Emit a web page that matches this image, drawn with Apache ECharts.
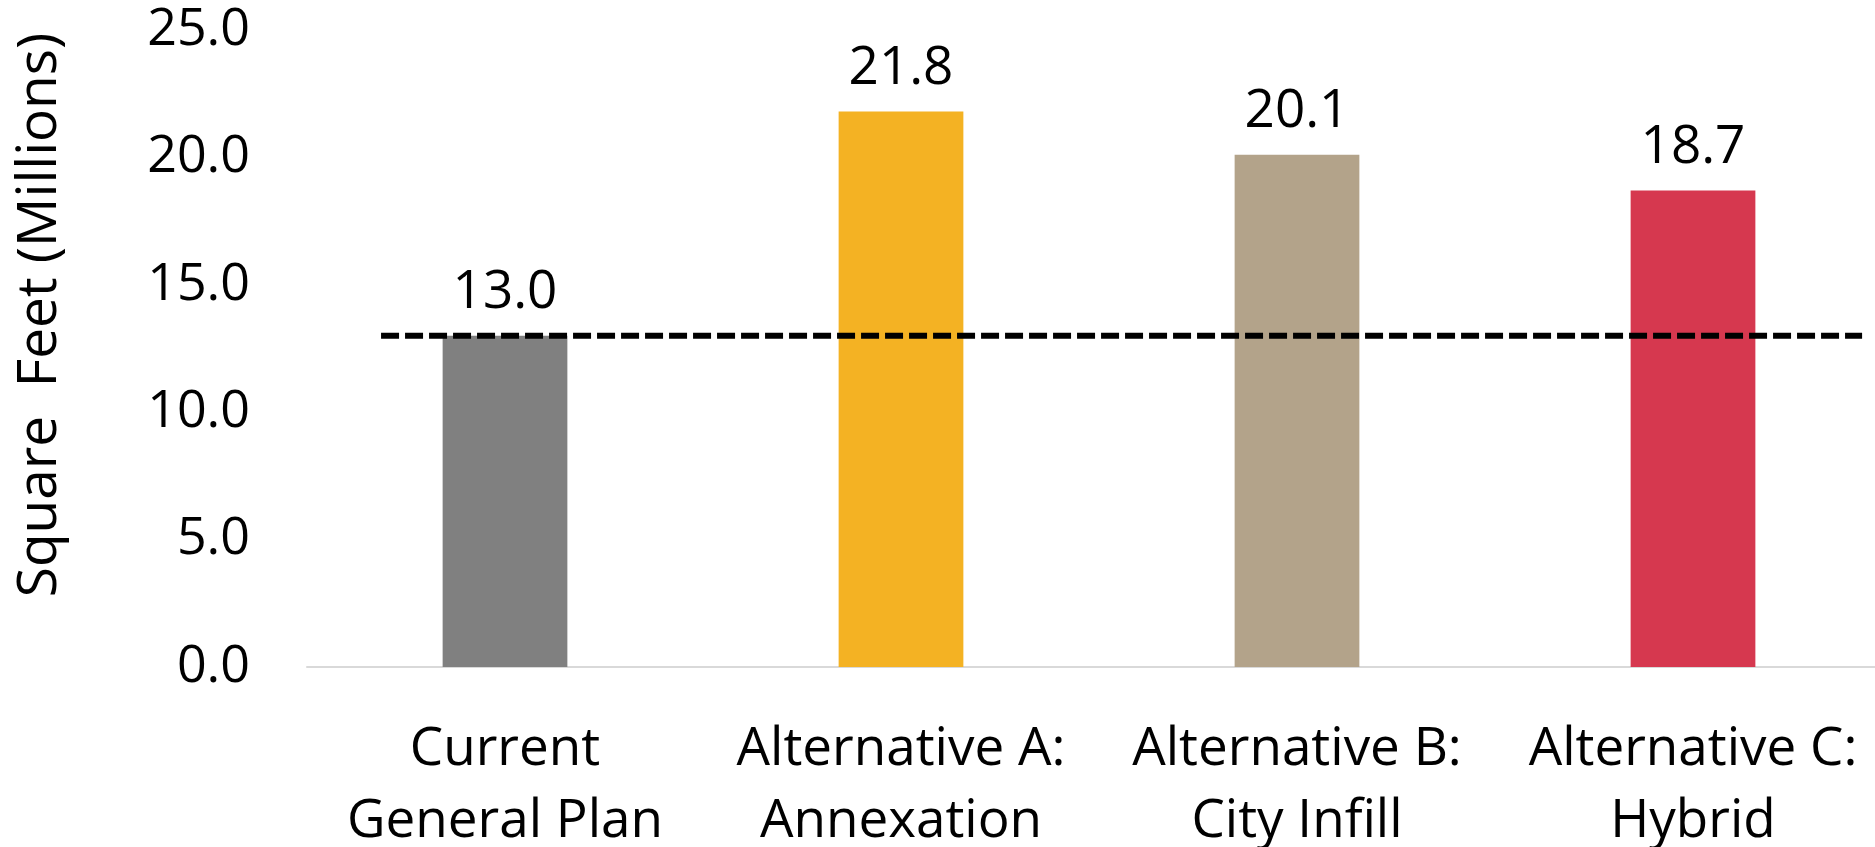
<!DOCTYPE html>
<html>
<head>
<meta charset="utf-8">
<script src="https://cdn.jsdelivr.net/npm/echarts@6/dist/echarts.min.js"></script>
<style>
  html, body { margin: 0; padding: 0; background: #fff; }
  #chart { width: 1875px; height: 847px; }
</style>
</head>
<body>
<div id="chart"></div>
<script>
// Commercial square footage by planning scenario (millions of sq ft)
const categories = ['Current\nGeneral Plan', 'Alternative A:\nAnnexation', 'Alternative B:\nCity Infill', 'Alternative C:\nHybrid'];
const values = [13.0, 21.8, 20.1, 18.7];
const barColors = ['#808080', '#F4B223', '#B3A38A', '#D6384F'];
const yTicks = [0, 5, 10, 15, 20, 25];
const yTitle = 'Square  Feet (Millions)';
// Baseline = current general plan, extended across all scenarios
const baselineValue = 13.0;
const baselineSpan = [-0.313, 3.427]; // in category units

const FONT = '"Open Sans", "Noto Sans", sans-serif';
const chart = echarts.init(document.getElementById('chart'));

chart.setOption({
  animation: false,
  grid: {
    left: 307, right: -16, top: 30, bottom: 180,
    containLabel: false, outerBoundsMode: 'none'
  },
  graphic: [{
    type: 'text',
    x: 40, y: 315,
    rotation: Math.PI / 2,
    style: {
      text: yTitle, fill: '#000', font: '55px ' + FONT,
      align: 'center', verticalAlign: 'middle'
    }
  }],
  xAxis: [{
    type: 'category',
    data: categories,
    axisLine: { show: true, lineStyle: { color: '#d9d9d9', width: 2 } },
    axisTick: { show: false },
    axisLabel: {
      color: '#000', fontFamily: FONT, fontSize: 53, lineHeight: 72,
      margin: 47, interval: 0
    }
  }, {
    type: 'value',
    min: -0.5, max: 3.5,
    show: false
  }],
  yAxis: {
    type: 'value',
    min: yTicks[0], max: yTicks[yTicks.length - 1], interval: 5,
    axisLine: { show: false },
    axisTick: { show: false },
    splitLine: { show: false },
    axisLabel: {
      color: '#000', fontFamily: FONT, fontSize: 52, margin: 57,
      formatter: v => v.toFixed(1)
    }
  },
  series: [{
    type: 'bar',
    xAxisIndex: 0,
    barWidth: '31.5%',
    data: values.map((v, i) => ({ value: v, itemStyle: { color: barColors[i] } })),
    label: {
      show: true, position: 'top', distance: 16,
      color: '#000', fontFamily: FONT, fontSize: 53,
      formatter: p => p.value.toFixed(1)
    },
    z: 2
  }, {
    type: 'line',
    xAxisIndex: 1,
    data: baselineSpan.map(x => [x, baselineValue]),
    symbol: 'none',
    lineStyle: { color: '#000', width: 6, type: [18, 6] },
    z: 3
  }]
});
</script>
</body>
</html>
